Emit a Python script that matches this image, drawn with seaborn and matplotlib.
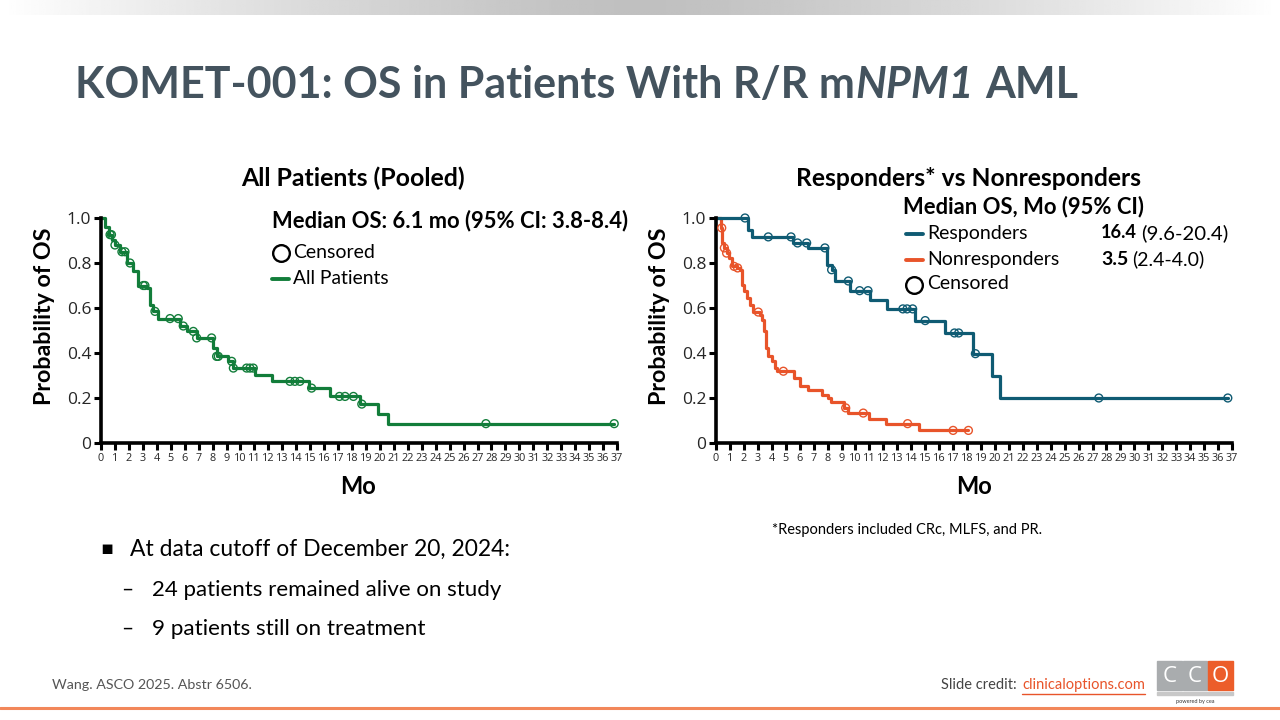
import numpy as np
import pandas as pd
import matplotlib
matplotlib.use("Agg")
import matplotlib.pyplot as plt
import seaborn as sns
from matplotlib.lines import Line2D
from matplotlib.patches import Rectangle

sns.set_theme(style="white")
plt.rcParams["font.family"] = ["Lato", "DejaVu Sans"]

# ---------------- data ----------------
x_ticks = list(range(0, 38))
y_ticks = [0, 0.2, 0.4, 0.6, 0.8, 1.0]
y_tick_labels = ["0", "0.2", "0.4", "0.6", "0.8", "1.0"]

# All patients (pooled): step times (mo) and survival after each step
all_t = [0, 0.29, 0.55, 0.78, 1.0, 1.36, 1.85, 2.32, 2.68, 3.27, 3.51, 3.75, 4.11,
         5.66, 6.14, 6.86, 8.05, 8.29, 9.13, 9.49, 11.04, 12.23, 14.9, 16.4,
         18.57, 19.88, 20.6]
all_s = [1.0, 0.96, 0.926, 0.904, 0.88, 0.85, 0.80, 0.763, 0.70, 0.689, 0.615, 0.585,
         0.553, 0.52, 0.496, 0.467, 0.422, 0.385, 0.363, 0.333, 0.304, 0.274, 0.244,
         0.207, 0.173, 0.129, 0.086]
all_end = 36.8
all_cens = [0.65, 0.75, 1.0, 1.5, 1.72, 2.08, 3.03, 3.15, 3.87, 4.95, 5.54, 5.9, 6.62,
            6.86, 7.93, 8.29, 8.41, 9.37, 9.49, 10.44, 10.68, 10.92, 13.55, 13.9, 14.26,
            15.1, 17.1, 17.5, 18.1, 18.7, 27.6, 36.8]

# Responders
resp_t = [0, 2.27, 2.56, 5.54, 6.62, 7.93, 8.29, 8.53, 9.6, 11.04, 12.23, 14.3, 16.4,
          18.45, 19.76, 20.36]
resp_s = [1.0, 0.948, 0.916, 0.889, 0.867, 0.793, 0.77, 0.72, 0.677, 0.637, 0.596,
          0.544, 0.489, 0.397, 0.299, 0.20]
resp_end = 36.7
resp_cens = [2.08, 3.75, 5.38, 5.85, 6.5, 7.81, 8.29, 9.49, 10.3, 10.9, 13.4, 13.7,
             14.1, 15.0, 17.1, 17.4, 18.6, 27.45, 36.7]

# Nonresponders
nonr_t = [0, 0.36, 0.45, 0.6, 0.76, 0.93, 1.12, 1.48, 1.72, 1.84, 2.03, 2.2, 2.44,
          2.68, 3.15, 3.27, 3.46, 3.58, 3.75, 3.99, 4.23, 4.35, 5.62, 6.02, 6.62,
          7.62, 8.0, 8.24, 9.2, 9.44, 10.97, 12.16, 14.55]
nonr_s = [1.0, 0.956, 0.889, 0.867, 0.844, 0.822, 0.785, 0.778, 0.77, 0.704, 0.674,
          0.644, 0.615, 0.582, 0.570, 0.548, 0.496, 0.422, 0.385, 0.363, 0.333, 0.319,
          0.289, 0.252, 0.237, 0.215, 0.2, 0.182, 0.156, 0.133, 0.108, 0.086, 0.056]
nonr_end = 18.1
nonr_cens = [0.41, 0.6, 0.76, 1.3, 1.55, 3.03, 4.83, 9.3, 10.56, 13.74, 17.0, 18.1]

# ---------------- colours ----------------
TITLE_C = "#44535e"
GREEN = "#127d3a"
BLUE = "#0f5b73"
ORANGE = "#e8542a"
W, H = 1280, 720

fig = plt.figure(figsize=(12.8, 7.2), dpi=100)
fig.patch.set_facecolor("white")
R = fig.canvas.get_renderer()


def fx(x):
    return x / W


def fy(y):
    return 1 - y / H


def txt(x, y, s, w=None, **kw):
    kw.setdefault("va", "center")
    kw.setdefault("color", "black")
    t = fig.text(fx(x), fy(y), s, **kw)
    if w is not None:
        bb = t.get_window_extent(R)
        cur = bb.height if kw.get("rotation", 0) == 90 else bb.width
        t.set_fontsize(t.get_fontsize() * w / cur)
    return t


# top gradient bar
gax = fig.add_axes([0, fy(15), 1, 15 / H])
g = np.linspace(-1, 1, 512)
vals = 0.75 + 0.25 * np.abs(g) ** 1.3
gax.imshow(np.tile(vals, (2, 1)), cmap="gray", vmin=0, vmax=1, aspect="auto",
           extent=[0, 1, 0, 1])
gax.axis("off")


def km(ax, t, s, end, cens, color):
    tt = list(t) + [end]
    ss = list(s) + [s[-1]]
    df = pd.DataFrame({"t": tt, "s": ss})
    sns.lineplot(data=df, x="t", y="s", ax=ax, drawstyle="steps-post", color=color,
                 lw=2.3, estimator=None, sort=False, clip_on=False)
    idx = np.searchsorted(np.array(t), np.array(cens), side="right") - 1
    cs = np.array(s)[idx]
    cdf = pd.DataFrame({"t": cens, "s": cs})
    sns.scatterplot(data=cdf, x="t", y="s", ax=ax, marker="o", s=32,
                    facecolors="none", edgecolor=color, linewidth=1.0,
                    clip_on=False, zorder=4)


def style_ax(ax):
    ax.set_xlim(0, 37)
    ax.set_ylim(0, 1.0)
    ax.set_xticks(x_ticks)
    ax.set_xticklabels([str(v) for v in x_ticks], fontsize=7.8, family="Open Sans")
    ax.set_yticks(y_ticks)
    ax.set_yticklabels(y_tick_labels, fontsize=12.5, family="Open Sans")
    for sp in ["top", "right"]:
        ax.spines[sp].set_visible(False)
    for sp in ["left", "bottom"]:
        ax.spines[sp].set_color("black")
        ax.spines[sp].set_linewidth(2.6)
    ax.tick_params(axis="both", direction="out", length=5, width=2.2, color="black",
                   pad=2, bottom=True, left=True)
    ax.set_xlabel("")
    ax.set_ylabel("")
    ax.set_facecolor("none")


axL = fig.add_axes([fx(101), fy(443), 516 / W, 225 / H])
km(axL, all_t, all_s, all_end, all_cens, GREEN)
style_ax(axL)

axR = fig.add_axes([fx(716), fy(443), 516 / W, 225 / H])
km(axR, nonr_t, nonr_s, nonr_end, nonr_cens, ORANGE)
km(axR, resp_t, resp_s, resp_end, resp_cens, BLUE)
style_ax(axR)

# axis labels
txt(45, 316, "Probability of OS", w=178, rotation=90, ha="center", fontsize=12.5,
    fontweight="bold")
txt(660, 316, "Probability of OS", w=178, rotation=90, ha="center", fontsize=12.5,
    fontweight="bold")
txt(358, 487, "Mo", w=36, ha="center", fontsize=15, fontweight="bold")
txt(974, 487, "Mo", w=36, ha="center", fontsize=15, fontweight="bold")

# panel titles
txt(353, 178, "All Patients (Pooled)", w=224, ha="center", fontsize=16,
    fontweight="bold")
txt(968, 178, "Responders* vs Nonresponders", w=347, ha="center", fontsize=16,
    fontweight="bold")

# left legend
txt(272, 221, "Median OS: 6.1 mo (95% CI: 3.8-8.4)", w=356, ha="left", fontsize=13.5,
    fontweight="bold")
fig.add_artist(Line2D([fx(281)], [fy(253)], marker="o", markersize=12,
                      mfc="none", mec="black", mew=1.7, transform=fig.transFigure))
txt(293, 252, "Censored", w=82, ha="left", fontsize=13.5)
fig.add_artist(Line2D([fx(272), fx(289)], [fy(279), fy(279)], color=GREEN, lw=2.8,
                      transform=fig.transFigure))
txt(293, 278, "All Patients", w=96, ha="left", fontsize=13.5)

# right legend
txt(903, 207, "Median OS, Mo (95% CI)", w=241, ha="left", fontsize=13.5,
    fontweight="bold")
fig.add_artist(Line2D([fx(906), fx(923)], [fy(234), fy(234)], color=BLUE, lw=2.8,
                      transform=fig.transFigure))
txt(927, 233, "Responders", w=101, ha="left", fontsize=13.5)
fig.add_artist(Line2D([fx(906), fx(923)], [fy(260), fy(260)], color=ORANGE, lw=2.8,
                      transform=fig.transFigure))
txt(927, 259, "Nonresponders", w=133, ha="left", fontsize=13.5)
fig.add_artist(Line2D([fx(914)], [fy(285)], marker="o", markersize=12,
                      mfc="none", mec="black", mew=1.7, transform=fig.transFigure))
txt(927, 284, "Censored", w=82, ha="left", fontsize=13.5)
b1 = txt(1101, 233, "16.4", w=36, ha="left", fontsize=13.5, fontweight="bold")
b2 = txt(1101, 259, "3.5", w=27, ha="left", fontsize=13.5, fontweight="bold")

# footnote
txt(772, 530, "*Responders included CRc, MLFS, and PR.", w=270, ha="left",
    fontsize=9.5)

# bullets
txt(107, 549, "\u25aa", ha="center", fontsize=14, family="DejaVu Sans")
txt(130, 549, "At data cutoff of December 20, 2024:", w=380, ha="left", fontsize=16.5)
txt(127, 590, "\u2013", ha="center", fontsize=15)
txt(152, 590, "24 patients remained alive on study", w=348, ha="left", fontsize=14.5)
txt(127, 629, "\u2013", ha="center", fontsize=15)
txt(152, 629, "9 patients still on treatment", w=272, ha="left", fontsize=14.5)

# footer
txt(52, 685, "Wang. ASCO 2025. Abstr 6506.", w=201, ha="left", fontsize=9.5,
    color="#555555")
link = txt(1145, 685, "clinicaloptions.com", ha="right", fontsize=10.5, color=ORANGE)
fig.add_artist(Line2D([0, 1], [fy(708), fy(708)], color="#f2875a", lw=2.2,
                      transform=fig.transFigure))

# logo
for i, c in enumerate(["#a9acae", "#a9acae", "#ec5d2a"]):
    x0 = 1157 + i * 25.5
    fig.add_artist(Rectangle((fx(x0), fy(690)), 24.5 / W, 29 / H, color=c,
                             transform=fig.transFigure))
    txt(x0 + 12.3, 676, ["C", "C", "O"][i], ha="center", fontsize=16, color="white",
        family="Open Sans")
fig.add_artist(Rectangle((fx(1157), fy(695)), 75.5 / W, 3 / H, color="#c8c8c8",
                         transform=fig.transFigure))
txt(1195, 701, "powered by cea", ha="center", fontsize=4, color="#333333")

# title in pieces (italic NPM1)
title_parts = [("KOMET-001: OS in Patients With R/R m", "normal"), ("NPM1", "italic"),
               ("AML", "normal")]
fs = 32
tmp = []
x = 75
gap = 12
for s, st in title_parts:
    t = txt(x, 85, s, ha="left", fontsize=fs, fontweight="bold", style=st,
            color=TITLE_C)
    bb = t.get_window_extent(R)
    x += bb.width + (gap if st == "italic" else 0)
    tmp.append(t)
total = x - 75
for t in tmp:
    t.remove()
fs = fs * 1005 / total
x = 75
for s, st in title_parts:
    t = txt(x, 85, s, ha="left", fontsize=fs, fontweight="bold", style=st,
            color=TITLE_C)
    bb = t.get_window_extent(R)
    x += bb.width + (gap if st == "italic" else 0)

# pieces after bold numbers
for b, s, yy in [(b1, "(9.6-20.4)", 233), (b2, "(2.4-4.0)", 259)]:
    bb = b.get_window_extent(R)
    txt(bb.x1 + 4, yy, s, w=(1228 - bb.x1 - 4) if yy == 233 else None, ha="left",
        fontsize=b.get_fontsize())

bb = link.get_window_extent(R)
fig.add_artist(Line2D([fx(bb.x0), fx(bb.x1)], [fy(694), fy(694)], color=ORANGE,
                      lw=1, transform=fig.transFigure))
txt(bb.x0 - 2, 685, "Slide credit: ", ha="right", fontsize=10.5, color="#444444")

fig.savefig("out.png", dpi=100, facecolor="white")
